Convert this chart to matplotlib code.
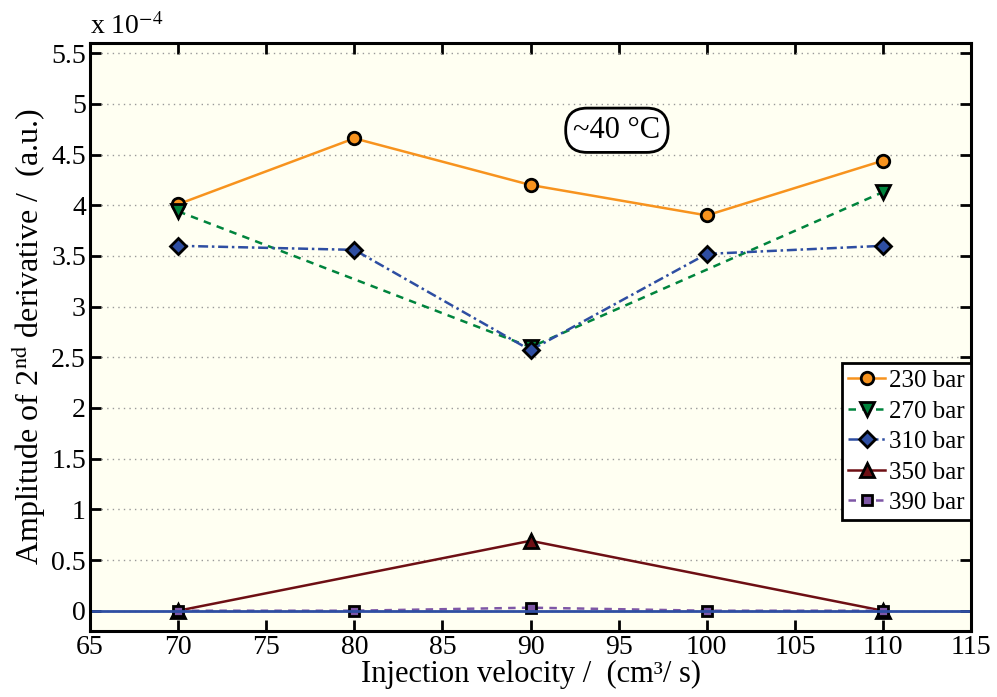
import matplotlib
matplotlib.use('Agg')
import matplotlib.pyplot as plt
import numpy as np

plt.rcParams['font.family'] = ['Liberation Serif', 'DejaVu Serif']
plt.rcParams['mathtext.fontset'] = 'stix'

# injection velocity (cm3/s)
vel_all = [70, 80, 90, 100, 110]
vel_3 = [70, 90, 110]

# amplitudes, units of 1e-4
amp_230 = [4.01, 4.66, 4.20, 3.90, 4.44]
amp_270 = [3.94, 2.60, 4.13]
amp_310 = [3.60, 3.56, 2.57, 3.52, 3.60]
amp_350 = [0.00, 0.69, 0.00]
amp_390 = [0.00, 0.00, 0.03, 0.00, 0.00]

labels = ['230 bar', '270 bar', '310 bar', '350 bar', '390 bar']

fontsize = 20
labelsize = 22
ms = 9
lw = 1.8

fig = plt.figure(figsize=(9.97, 6.97), dpi=100)
ax = fig.add_axes([0.0903, 0.0947, 0.8837, 0.8435])
ax.set_facecolor('#fffff2')

ax.axhline(0, color='#2e4ea2', lw=2.0, zorder=2)

ax.plot(vel_all, amp_230, '-', color='#f7931e', lw=lw, marker='o', ms=ms,
        mfc='#f7931e', mec='black', mew=2, label=labels[0], zorder=3)
ax.plot(vel_3, amp_270, '--', color='#00843d', lw=lw, marker='v', ms=ms + 1,
        mfc='#00843d', mec='black', mew=2, label=labels[1], dashes=(3, 2.5), zorder=3)
ax.plot(vel_all, amp_310, '-.', color='#2e4ea2', lw=lw, marker='D', ms=ms - 1,
        mfc='#2e4ea2', mec='black', mew=2, label=labels[2], dashes=(4, 1.5, 1, 1.5), zorder=3)
ax.plot(vel_3, amp_350, '-', color='#6e0f14', lw=lw, marker='^', ms=ms + 1,
        mfc='#6e0f14', mec='black', mew=2, label=labels[3], zorder=1.5)
ax.plot(vel_all, amp_390, '--', color='#7e57a6', lw=lw, marker='s', ms=ms - 2,
        mfc='#7e57a6', mec='black', mew=2, label=labels[4], dashes=(3, 2.5), zorder=1.8)

ax.set_xlim(65, 115)
ax.set_ylim(-0.2, 5.6)
ax.set_xticks(np.arange(65, 116, 5))
ax.set_yticks(np.arange(0, 5.6, 0.5))
ax.set_yticklabels(['0', '0.5', '1', '1.5', '2', '2.5', '3', '3.5', '4', '4.5', '5', '5.5'])
ax.yaxis.grid(True, linestyle=(0, (1, 3)), color='#999999', lw=1.0)
ax.set_axisbelow(True)

ax.tick_params(axis='both', direction='in', length=8, width=2,
               top=True, right=True, labelsize=fontsize, pad=3)
for sp in ax.spines.values():
    sp.set_linewidth(2.2)

ax.set_xlabel('Injection velocity /  (cm³/ s)', fontsize=labelsize, labelpad=0)
ax.set_ylabel('Amplitude of 2$^{\\mathrm{nd}}$ derivative /  (a.u.)', fontsize=23, labelpad=2)

ax.text(0.0, 1.005, 'x 10$^{\\mathrm{-4}}$', transform=ax.transAxes,
        fontsize=fontsize, ha='left', va='bottom')

ax.text(94.9, 4.74, '~40 °C', fontsize=labelsize, ha='center', va='center',
        bbox=dict(boxstyle='round,pad=0.25,rounding_size=0.7', fc='white', ec='black', lw=2))

leg = ax.legend(loc='upper right', bbox_to_anchor=(1.0, 0.455), fontsize=18,
                frameon=True, fancybox=False, handlelength=1.5, handletextpad=0.15,
                borderpad=0.25, labelspacing=0.32, borderaxespad=0.0)
leg.get_frame().set_edgecolor('black')
leg.get_frame().set_linewidth(2)
leg.get_frame().set_facecolor('white')
leg.get_frame().set_alpha(1)

fig.savefig('out.png', dpi=100)
